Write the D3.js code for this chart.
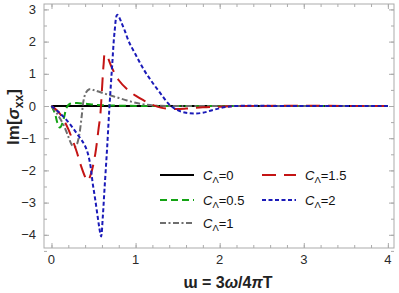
<!DOCTYPE html>
<html>
<head>
<meta charset="utf-8">
<script src="https://cdn.jsdelivr.net/npm/d3@7"></script>
<style>
  body { margin: 0; background: #fff; }
  text { font-family: "Liberation Sans", Arial, sans-serif; }
</style>
</head>
<body>
<svg id="chart" width="399" height="293"></svg>
<script>
// curves, [x, Im sigma_xx]
var c0 = [[0, 0], [4, 0]];
var c05 = [[0, 0], [0.04, -0.22], [0.07, -0.52], [0.1, -0.67], [0.12, -0.6], [0.15, -0.35],
  [0.18, -0.05], [0.22, 0.07], [0.3, 0.09], [0.4, 0.07], [0.55, 0.03], [0.8, 0.01], [1.2, 0], [4, 0]];
var c1 = [[0, 0], [0.05, -0.17], [0.1, -0.38], [0.15, -0.62], [0.2, -0.95], [0.24, -1.2],
  [0.27, -1.28], [0.3, -1.2], [0.33, -0.9], [0.36, -0.3], [0.38, 0.15], [0.41, 0.42], [0.45, 0.52],
  [0.5, 0.5], [0.6, 0.41], [0.7, 0.33], [0.8, 0.25], [0.9, 0.17], [1.0, 0.1], [1.1, 0.05],
  [1.25, 0.01], [1.5, 0], [4, 0]];
var c15 = [[0, 0], [0.05, -0.1], [0.1, -0.24], [0.15, -0.45], [0.2, -0.72], [0.25, -1.05],
  [0.3, -1.42], [0.35, -1.85], [0.4, -2.2], [0.43, -2.33], [0.47, -2.1], [0.52, -1.5],
  [0.56, -0.7], [0.58, -0.3], [0.6, 0.5], [0.62, 1.3], [0.635, 1.62], [0.66, 1.55], [0.72, 1.18],
  [0.8, 0.8], [0.9, 0.52], [1.0, 0.32], [1.1, 0.17], [1.2, 0.04], [1.3, -0.05], [1.45, -0.09],
  [1.6, -0.08], [1.8, -0.04], [2.0, -0.02], [2.3, 0], [4, 0]];
var c2 = [[0, 0], [0.1, -0.22], [0.2, -0.5], [0.3, -0.85], [0.38, -1.15], [0.42, -1.37],
  [0.46, -1.8], [0.49, -2.4], [0.52, -2.9], [0.55, -3.45], [0.57, -3.8], [0.59, -4.05],
  [0.61, -3.45], [0.63, -2.6], [0.66, -1.37], [0.69, 0], [0.72, 1.2], [0.75, 2.3], [0.78, 2.83],
  [0.8, 2.78], [0.83, 2.6], [0.87, 2.35], [0.92, 2.0], [1.0, 1.6], [1.1, 1.12], [1.2, 0.73],
  [1.3, 0.38], [1.4, 0.05], [1.5, -0.13], [1.6, -0.21], [1.7, -0.23], [1.8, -0.21], [1.9, -0.14],
  [2.0, -0.07], [2.1, -0.02], [2.2, 0], [2.4, 0.01], [2.7, 0], [4, 0]];

var labels = ["0", "0.5", "1", "1.5", "2"];
var xTicks = [0, 1, 2, 3, 4];
var yTicks = [-4, -3, -2, -1, 0, 1, 2, 3];

var series = [
  {data: c0, name: labels[0], color: "#000000", dash: null},
  {data: c05, name: labels[1], color: "#13a313", dash: "7,4"},
  {data: c1, name: labels[2], color: "#6e6e6e", dash: "6,2.5,2,2.5"},
  {data: c15, name: labels[3], color: "#c41414", dash: "14,8"},
  {data: c2, name: labels[4], color: "#1a1ab8", dash: "4,2.5"}
];

var svg = d3.select("#chart"),
  pL = 44, pR = 394, pT = 4, pB = 248,
  frame = "#ababab";

var x = d3.scaleLinear().domain([-0.089, 4.073]).range([pL, pR]);
var y = d3.scaleLinear().domain([-4.41, 3.168]).range([pB, pT]);

svg.append("clipPath").attr("id", "clip")
  .append("rect").attr("x", pL).attr("y", pT)
  .attr("width", pR - pL).attr("height", pB - pT);

var line = d3.line()
  .x(function(d) { return x(d[0]); })
  .y(function(d) { return y(d[1]); })
  .curve(d3.curveCatmullRom.alpha(0.5));

var plot = svg.append("g").attr("clip-path", "url(#clip)");
series.forEach(function(s) {
  plot.append("path")
    .datum(s.data)
    .attr("d", line)
    .attr("fill", "none")
    .attr("stroke", s.color)
    .attr("stroke-width", 2)
    .attr("stroke-dasharray", s.dash);
});

// frame with mirrored ticks
var xMinor = d3.range(-0.2, 4.01, 0.2).filter(function(v) { return v >= x.domain()[0]; });
var yMinor = d3.range(-4.5, 3.01, 0.5);

function drawAxis(g, axis, minor, major) {
  g.append("g").call(axis.tickValues(minor).tickSize(3).tickFormat("").tickSizeOuter(0));
  g.append("g").call(axis.tickValues(major).tickSize(5).tickFormat("").tickSizeOuter(0));
  g.selectAll(".domain").remove();
  g.selectAll("line").attr("stroke", frame);
}

drawAxis(svg.append("g").attr("transform", "translate(0," + pB + ")"), d3.axisTop(x), xMinor, xTicks);
drawAxis(svg.append("g").attr("transform", "translate(0," + pT + ")"), d3.axisBottom(x), xMinor, xTicks);
drawAxis(svg.append("g").attr("transform", "translate(" + pL + ",0)"), d3.axisRight(y), yMinor, yTicks);
drawAxis(svg.append("g").attr("transform", "translate(" + pR + ",0)"), d3.axisLeft(y), yMinor, yTicks);

svg.append("rect").attr("x", pL).attr("y", pT)
  .attr("width", pR - pL).attr("height", pB - pT)
  .attr("fill", "none").attr("stroke", frame).attr("stroke-width", 1);

// tick labels
svg.selectAll(".xl").data(xTicks).enter().append("text")
  .attr("class", "xl")
  .attr("x", function(d) { return x(d); })
  .attr("y", 264)
  .attr("text-anchor", "middle")
  .attr("font-size", 13)
  .attr("fill", "#2a2a2a")
  .text(function(d) { return d; });

svg.selectAll(".yl").data(yTicks).enter().append("text")
  .attr("class", "yl")
  .attr("x", 36)
  .attr("y", function(d) { return y(d) + 4.5; })
  .attr("text-anchor", "end")
  .attr("font-size", 13)
  .attr("fill", "#2a2a2a")
  .text(function(d) { return d < 0 ? "\u2212" + (-d) : d; });

// axis titles
var xt = svg.append("text")
  .attr("x", 228).attr("y", 288)
  .attr("text-anchor", "middle")
  .attr("font-size", 16).attr("font-weight", "bold")
  .attr("fill", "#222");
xt.append("tspan").text("\u026f = 3");
xt.append("tspan").attr("font-style", "italic").text("\u03c9");
xt.append("tspan").text("/4");
xt.append("tspan").attr("font-style", "italic").text("\u03c0");
xt.append("tspan").text("T");

var yt = svg.append("text")
  .attr("transform", "translate(19,117) rotate(-90)")
  .attr("text-anchor", "middle")
  .attr("font-size", 17).attr("font-weight", "bold")
  .attr("fill", "#222");
yt.append("tspan").text("Im[");
yt.append("tspan").attr("font-style", "italic").text("\u03c3");
yt.append("tspan").attr("font-size", 12).attr("dy", 4).text("xx");
yt.append("tspan").attr("dy", -4).text("]");

// legend
var legendPos = [[160, 175], [160, 200], [160, 223], [262, 175], [262, 200]];
series.forEach(function(s, i) {
  var p = legendPos[i];
  svg.append("line")
    .attr("x1", p[0]).attr("x2", p[0] + 34)
    .attr("y1", p[1]).attr("y2", p[1])
    .attr("stroke", s.color).attr("stroke-width", 2)
    .attr("stroke-dasharray", s.dash);
  var t = svg.append("text")
    .attr("x", p[0] + 43).attr("y", p[1] + 4.5)
    .attr("font-size", 13).attr("fill", "#111");
  t.append("tspan").attr("font-style", "italic").text("C");
  t.append("tspan").attr("font-size", 9.5).attr("dy", 3).text("\u039b");
  t.append("tspan").attr("dy", -3).text("=" + s.name);
});
</script>
</body>
</html>
